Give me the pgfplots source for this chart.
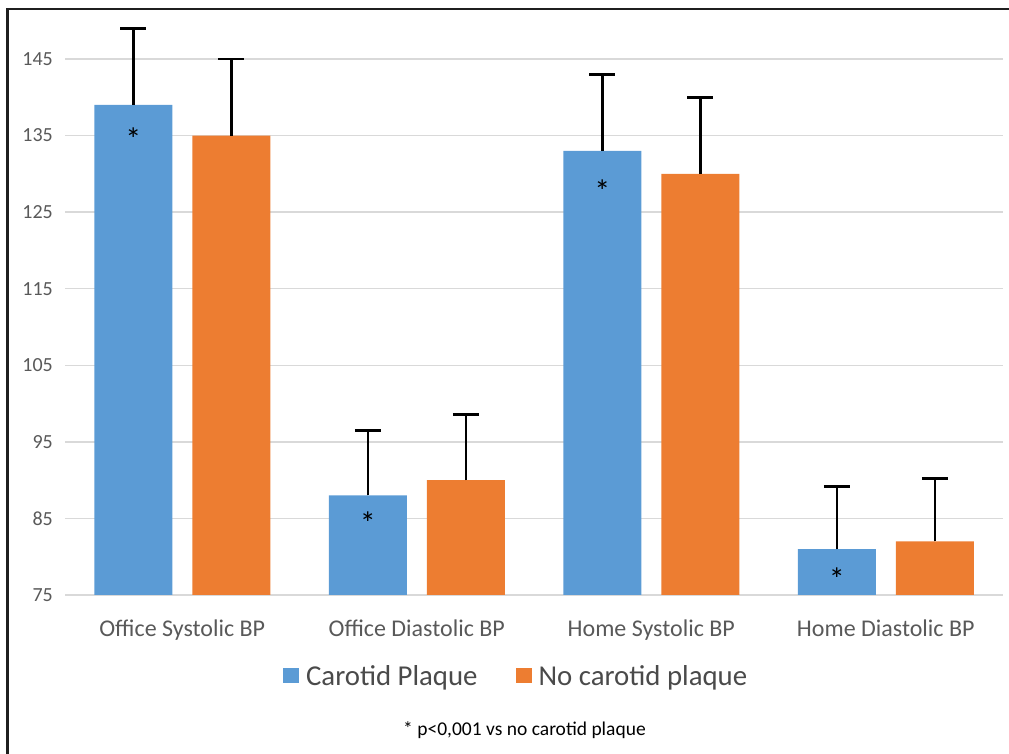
\documentclass[border=0pt]{standalone}
\usepackage{pgfplots}
\pgfplotsset{compat=1.18}
\usepackage{pgfplotstable}
\usepackage{fontspec}
\setmainfont{Carlito}
\definecolor{cpblue}{HTML}{5B9BD5}
\definecolor{cporange}{HTML}{ED7D31}
\definecolor{gridgray}{HTML}{D9D9D9}
\definecolor{labgray}{HTML}{595959}
\definecolor{leggray}{HTML}{4A4A4A}
\pgfplotstableread{
x y err
0 139 10
1 88 8.5
2 133 10
3 81 8.2
}\plaque
\pgfplotstableread{
x y err
0 135 10
1 90 8.6
2 130 10
3 82 8.2
}\noplaque
\begin{document}
\begin{tikzpicture}
\useasboundingbox (0,0) rectangle (1009bp,754bp);
\draw[line width=2.8bp, color=black!88] (7.5bp,0) -- (7.5bp,745bp) -- (1009bp,745bp);
\begin{axis}[
  at={(65bp,159bp)}, anchor=south west, scale only axis,
  width=938bp, height=574.3bp,
  xmin=-0.5, xmax=3.5, ymin=75, ymax=150,
  ybar=20bp, bar width=78bp,
  xtick={0,1,2,3},
  xticklabels={Office Systolic BP, Office Diastolic BP, Home Systolic BP, Home Diastolic BP},
  ytick={75,85,...,145},
  ymajorgrids, grid style={gridgray, line width=1.3bp},
  axis line style={draw=none},
  major tick length=0pt,
  /pgf/number format/assume math mode=true,
  xticklabel style={font=\fontsize{24bp}{28bp}\selectfont, text=labgray, anchor=base, yshift=-41bp},
  yticklabel style={font=\fontsize{20bp}{24bp}\selectfont, text=labgray, anchor=east, inner sep=0pt, xshift=-12bp},
  legend columns=2,
  legend style={draw=none, fill=none, at={(0.481,-0.141)}, anchor=center,
    font=\fontsize{28.8bp}{32bp}\selectfont, text=leggray,
    /tikz/every odd column/.append style={column sep=5bp},
    /tikz/every even column/.append style={column sep=36bp}},
  error bars/y dir=plus, error bars/y explicit,
  error bars/error bar style={black, line width=2.5bp},
  error bars/error mark options={black, line width=2.5bp, mark size=13bp, rotate=90},
]
\addplot[fill=cpblue, draw=none,
  legend image code/.code={\fill[cpblue] (0bp,-7.5bp) rectangle (16bp,7.5bp);}]
  table[x=x, y=y, y error=err] {\plaque};
\addlegendentry{Carotid Plaque}
\addplot[fill=cporange, draw=none,
  legend image code/.code={\fill[cporange] (0bp,-7.5bp) rectangle (16bp,7.5bp);}]
  table[x=x, y=y, y error=err] {\noplaque};
\addlegendentry{No carotid plaque}
\node[font=\fontsize{32bp}{34bp}\selectfont, xshift=-49bp, yshift=-6bp] at (axis cs:0,135.3) {*};
\node[font=\fontsize{32bp}{34bp}\selectfont, xshift=-49bp, yshift=-6bp] at (axis cs:1,85.2) {*};
\node[font=\fontsize{32bp}{34bp}\selectfont, xshift=-49bp, yshift=-6bp] at (axis cs:2,128.5) {*};
\node[font=\fontsize{32bp}{34bp}\selectfont, xshift=-49bp, yshift=-6bp] at (axis cs:3,77.9) {*};
\end{axis}
\node[font=\fontsize{19.5bp}{22bp}\selectfont, anchor=base] at (524.5bp,19bp) {* p<0,001 vs no carotid plaque};
\end{tikzpicture}
\end{document}
